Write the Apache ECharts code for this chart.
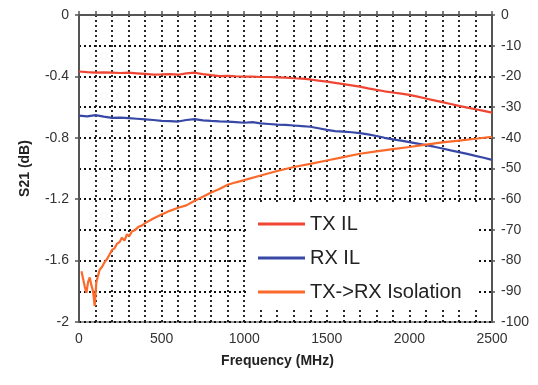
<!DOCTYPE html>
<html>
<head>
<meta charset="utf-8">
<script src="https://cdn.jsdelivr.net/npm/echarts@6/dist/echarts.min.js"></script>
<style>
html,body{margin:0;padding:0;background:#fff;}
#chart{width:538px;height:385px;}
</style>
</head>
<body>
<div id="chart"></div>
<script>
// Frequency grid for insertion-loss traces (MHz)
const ilFreq = [0,50,100,150,200,250,300,350,400,450,500,550,600,650,700,750,800,850,900,950,1000,1050,1100,1150,1200,1250,1300,1350,1400,1450,1500,1550,1600,1650,1700,1750,1800,1850,1900,1950,2000,2050,2100,2150,2200,2250,2300,2350,2400,2450,2500];
// TX IL (dB, left axis)
const txIL = [-0.368,-0.372,-0.375,-0.374,-0.376,-0.378,-0.376,-0.380,-0.384,-0.388,-0.387,-0.385,-0.389,-0.380,-0.376,-0.385,-0.392,-0.398,-0.396,-0.399,-0.401,-0.402,-0.404,-0.404,-0.406,-0.408,-0.412,-0.415,-0.420,-0.428,-0.434,-0.442,-0.450,-0.458,-0.467,-0.478,-0.488,-0.497,-0.505,-0.512,-0.520,-0.532,-0.544,-0.556,-0.568,-0.580,-0.592,-0.603,-0.614,-0.625,-0.636];
// RX IL (dB, left axis)
const rxIL = [-0.655,-0.660,-0.652,-0.662,-0.670,-0.668,-0.672,-0.676,-0.680,-0.684,-0.690,-0.692,-0.694,-0.684,-0.678,-0.686,-0.690,-0.693,-0.695,-0.698,-0.702,-0.698,-0.706,-0.710,-0.714,-0.716,-0.720,-0.724,-0.728,-0.738,-0.748,-0.756,-0.760,-0.764,-0.770,-0.778,-0.788,-0.800,-0.810,-0.818,-0.828,-0.838,-0.848,-0.858,-0.870,-0.882,-0.893,-0.905,-0.918,-0.930,-0.944];
// TX->RX Isolation (dB, right axis)
const isoFreq = [15,25,35,45,55,65,75,85,95,105,115,125,140,155,170,185,200,215,230,245,260,275,290,305,320,340,360,380,400,450,500,550,600,650,700,750,800,850,900,950,1000,1100,1200,1300,1400,1500,1600,1700,1800,1900,2000,2100,2200,2300,2400,2500];
const isoVal = [-83.5,-84,-88.5,-90.5,-87,-85.5,-88,-90,-94.8,-87,-85,-83,-82,-80.5,-79.5,-78,-76.5,-76,-74.5,-74,-72.5,-73.5,-71.5,-72,-70.5,-70,-69,-68.6,-67.8,-66.3,-65,-63.8,-62.8,-62,-60.5,-59.2,-57.8,-56.7,-55.3,-54.5,-53.8,-52.3,-50.8,-49.5,-48.5,-47.4,-46.3,-45.2,-44.4,-43.7,-43.0,-42.2,-41.5,-40.9,-40.3,-39.7];
const seriesNames = ['TX IL','RX IL','TX->RX Isolation'];
const xTickLabels = [0,500,1000,1500,2000,2500];

const pair = (xs, ys) => xs.map((x, i) => [x, ys[i]]);
const gridLine = {show: true, lineStyle: {color: '#111', width: 1.8, type: [2, 3]}};
const labelStyle = {color: '#333', fontSize: 14, fontFamily: 'Liberation Sans'};
const axisLineStyle = {show: true, lineStyle: {color: '#555', width: 2}};

const chart = echarts.init(document.getElementById('chart'), null, {renderer: 'canvas'});
chart.setOption({
  animation: false,
  backgroundColor: '#fff',
  grid: {left: 79, right: 46, top: 15, bottom: 63, show: true, borderColor: '#777', borderWidth: 1.5, backgroundColor: 'transparent'},
  xAxis: {
    type: 'value', min: 0, max: 2500, interval: 100,
    name: 'Frequency (MHz)', nameLocation: 'middle', nameGap: 32,
    nameTextStyle: {fontSize: 14, fontWeight: 'bold', color: '#222', fontFamily: 'Liberation Sans', padding: [0, 16, 0, 0]},
    axisLine: axisLineStyle,
    axisTick: {show: true, inside: true, length: 4, lineStyle: {color: '#555', width: 1.5}},
    axisLabel: Object.assign({margin: 10, formatter: v => xTickLabels.includes(v) ? String(v) : ''}, labelStyle),
    splitLine: gridLine
  },
  yAxis: [
    {
      type: 'value', min: -2, max: 0, interval: 0.4, position: 'left',
      name: 'S21 (dB)', nameLocation: 'middle', nameGap: 47,
      nameTextStyle: {fontSize: 14, fontWeight: 'bold', color: '#222', fontFamily: 'Liberation Sans'},
      axisLine: axisLineStyle,
      axisTick: {show: true, length: 4, lineStyle: {color: '#555', width: 1.5}},
      axisLabel: Object.assign({margin: 10}, labelStyle),
      splitLine: {show: false}
    },
    {
      type: 'value', min: -100, max: 0, interval: 10, position: 'right',
      axisLine: axisLineStyle,
      axisTick: {show: true, length: 3, lineStyle: {color: '#555', width: 1.5}},
      axisLabel: Object.assign({margin: 9}, labelStyle),
      splitLine: gridLine
    }
  ],
  legend: {
    orient: 'vertical', left: 248, top: 203,
    padding: [11, 16, 8, 10],
    backgroundColor: '#fff',
    itemWidth: 47, itemHeight: 3, itemGap: 14, icon: 'rect',
    textStyle: {fontSize: 20, color: '#222', fontFamily: 'Liberation Sans'},
    data: seriesNames
  },
  series: [
    {name: seriesNames[0], type: 'line', yAxisIndex: 0, data: pair(ilFreq, txIL), showSymbol: false, lineStyle: {color: '#ef4532', width: 2.2}, itemStyle: {color: '#ef4532'}, z: 3},
    {name: seriesNames[1], type: 'line', yAxisIndex: 0, data: pair(ilFreq, rxIL), showSymbol: false, lineStyle: {color: '#3748a6', width: 2.2}, itemStyle: {color: '#3748a6'}, z: 3},
    {name: seriesNames[2], type: 'line', yAxisIndex: 1, data: pair(isoFreq, isoVal), showSymbol: false, lineStyle: {color: '#fb6a2a', width: 2.2}, itemStyle: {color: '#fb6a2a'}, z: 3}
  ]
});
</script>
</body>
</html>
